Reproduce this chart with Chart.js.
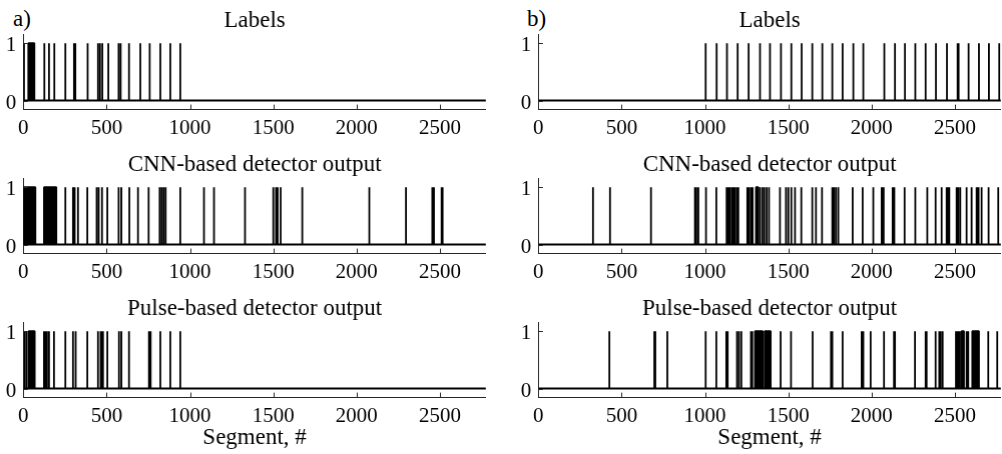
<!DOCTYPE html>
<html>
<head>
<meta charset="utf-8">
<script src="https://cdn.jsdelivr.net/npm/chart.js@4/dist/chart.umd.min.js"></script>
<style>
  html, body { margin: 0; padding: 0; background: #fff; overflow: hidden; }
  body { width: 1002px; height: 454px; position: relative; }
  .panel { position: absolute; }
  .tag { position: absolute; font-family: 'Liberation Serif', serif; font-size: 23px; line-height: 1; color: #000; }
</style>
</head>
<body>
<div class="tag" style="left:13px;top:7px;">a)</div>
<div class="tag" style="left:527px;top:7px;">b)</div>
<div class="panel" id="p0"><canvas id="c0"></canvas></div>
<div class="panel" id="p1"><canvas id="c1"></canvas></div>
<div class="panel" id="p2"><canvas id="c2"></canvas></div>
<div class="panel" id="p3"><canvas id="c3"></canvas></div>
<div class="panel" id="p4"><canvas id="c4"></canvas></div>
<div class="panel" id="p5"><canvas id="c5"></canvas></div>
<script>
// ---------- data (segment indices of detections) ----------
const xTicks = [0, 500, 1000, 1500, 2000, 2500];
const yTicks = [0, 1];
const titles = ['Labels', 'CNN-based detector output', 'Pulse-based detector output'];
const xAxisTitle = 'Segment, #';

// a) column
const labelsA = [4, 126, 154, 186, 252, 304, 312, 386, 448, 460, 474, 510, 572, 584, 634, 702, 756, 760, 822, 882, 942];
const labelsABlocks = [[30, 66]];
const cnnA = [252, 298, 308, 328, 384, 440, 452, 472, 504, 572, 588, 636, 688, 752, 818, 830, 842, 854, 942,
              1084, 1144, 1330, 1500, 1516, 1526, 1544, 1674, 2076, 2296, 2454, 2464, 2510, 2516];
const cnnABlocks = [[0, 72], [124, 198]];
const pulseA = [8, 20, 124, 132, 142, 154, 184, 252, 298, 314, 384, 448, 464, 472, 478, 504, 574, 588, 634,
                754, 764, 822, 882, 942];
const pulseABlocks = [[32, 68]];

// b) column
const labelsB = [1004, 1070, 1132, 1196, 1262, 1330, 1390, 1456, 1518, 1580, 1644, 1704, 1764, 1826, 1890, 1950,
                 2076, 2140, 2200, 2262, 2324, 2386, 2452, 2516, 2522, 2582, 2644, 2704, 2766];
const labelsBBlocks = [];
const cnnB = [328, 430, 676, 940, 948, 960, 1006, 1068, 1130, 1140, 1148, 1160, 1170, 1180, 1192, 1200,
              1254, 1264, 1276, 1286, 1330, 1344, 1356, 1370, 1384, 1450, 1486, 1500, 1518, 1540, 1578,
              1644, 1666, 1702, 1764, 1774, 1786, 1800, 1886, 1946, 2010, 2060, 2066, 2072, 2126, 2136,
              2198, 2262, 2334, 2384, 2420, 2450, 2458, 2466, 2510, 2520, 2532, 2570, 2600, 2630, 2636,
              2642, 2660, 2702, 2760];
const cnnBBlocks = [[1306, 1320]];
const pulseB = [426, 696, 702, 774, 1004, 1068, 1128, 1136, 1192, 1204, 1218, 1276, 1284, 1454, 1516, 1646,
                1756, 1764, 1826, 1940, 1950, 1994, 2074, 2134, 2140, 2260, 2324, 2330, 2384, 2406, 2414,
                2426, 2506, 2514, 2522, 2530, 2570, 2580, 2700, 2754];
const pulseBBlocks = [[1300, 1346], [1358, 1394], [2540, 2554], [2604, 2644]];

const X_MIN = 0, X_MAX = 2776;
const Y_MIN = -0.15, Y_MAX = 1.15;

// ---------- layout ----------
const FONT = "'Liberation Serif', 'Times New Roman', serif";
const Y_AXIS_W = 23.3;
const PLOT_W = 462.5;
const PLOT_H = 74.5;
const TITLE_H = 23 * 1.2;
const colLeft = [23.3, 538.4];           // pixel of x=0
const rowTop = [34.7, 178.7, 322.5];     // chart-area top

function spikePoints(spikes) {
  const pts = [{x: X_MIN, y: 0}];
  spikes.slice().sort((a, b) => a - b).forEach(v => {
    pts.push({x: v, y: 0}, {x: v, y: 1}, {x: v, y: 0});
  });
  pts.push({x: X_MAX, y: 0});
  return pts;
}
function blockPoints(b) {
  return [{x: b[0], y: 0}, {x: b[0], y: 1}, {x: b[1], y: 1}, {x: b[1], y: 0}];
}

const innerTicks = {
  id: 'innerTicks',
  afterDraw(chart) {
    const {ctx, chartArea: a, scales: {x, y}} = chart;
    ctx.save();
    ctx.strokeStyle = '#262626';
    ctx.lineWidth = 1;
    ctx.beginPath();
    x.ticks.forEach(t => {
      const p = Math.round(x.getPixelForValue(t.value)) + 0.5;
      ctx.moveTo(p, a.bottom); ctx.lineTo(p, a.bottom - 4.5);
    });
    y.ticks.forEach(t => {
      const p = Math.round(y.getPixelForValue(t.value)) + 0.5;
      ctx.moveTo(a.left, p); ctx.lineTo(a.left + 4.5, p);
    });
    ctx.stroke();
    ctx.restore();
  }
};

const panels = [
  {col: 0, row: 0, s: labelsA, b: labelsABlocks},
  {col: 0, row: 1, s: cnnA, b: cnnABlocks},
  {col: 0, row: 2, s: pulseA, b: pulseABlocks},
  {col: 1, row: 0, s: labelsB, b: labelsBBlocks},
  {col: 1, row: 1, s: cnnB, b: cnnBBlocks},
  {col: 1, row: 2, s: pulseB, b: pulseBBlocks},
];

const lineStyle = {
  borderColor: '#000',
  backgroundColor: '#000',
  borderWidth: 1.8,
  borderJoinStyle: 'bevel',
  borderCapStyle: 'butt',
  pointRadius: 0,
  tension: 0
};

panels.forEach((p, i) => {
  const last = p.row === 2;
  const xAxisH = last ? 60 : 40;
  const div = document.getElementById('p' + i);
  div.style.left = (colLeft[p.col] - Y_AXIS_W) + 'px';
  div.style.top = (rowTop[p.row] - TITLE_H) + 'px';
  div.style.width = (Y_AXIS_W + PLOT_W) + 'px';
  div.style.height = (TITLE_H + PLOT_H + xAxisH) + 'px';

  const datasets = [Object.assign({data: spikePoints(p.s), fill: false}, lineStyle)];
  p.b.forEach(b => datasets.push(Object.assign({data: blockPoints(b), fill: 'origin'}, lineStyle)));

  new Chart(document.getElementById('c' + i), {
    type: 'line',
    data: {datasets},
    plugins: [innerTicks],
    options: {
      responsive: true,
      maintainAspectRatio: false,
      animation: false,
      events: [],
      layout: {padding: 0},
      plugins: {
        legend: {display: false},
        tooltip: {enabled: false},
        title: {
          display: true,
          text: titles[p.row],
          fullSize: false,
          color: '#000',
          font: {family: FONT, size: 23, weight: 'normal', lineHeight: 1.2},
          padding: {top: 0, bottom: 0}
        }
      },
      scales: {
        x: {
          type: 'linear',
          min: X_MIN, max: X_MAX,
          afterBuildTicks: s => { s.ticks = xTicks.map(v => ({value: v})); },
          afterFit: s => { s.height = xAxisH; },
          grid: {drawOnChartArea: false, drawTicks: false},
          border: {display: true, color: '#262626', width: 1},
          ticks: {color: '#000', font: {family: FONT, size: 21}, padding: 6.5, maxRotation: 0, autoSkip: false,
                  callback: v => String(v)},
          title: {
            display: last,
            text: xAxisTitle,
            color: '#000',
            font: {family: FONT, size: 23},
            padding: {top: 0, bottom: 5}
          }
        },
        y: {
          type: 'linear',
          min: Y_MIN, max: Y_MAX,
          afterBuildTicks: s => { s.ticks = yTicks.map(v => ({value: v})); },
          afterFit: s => { s.width = Y_AXIS_W; },
          grid: {drawOnChartArea: false, drawTicks: false},
          border: {display: true, color: '#262626', width: 1},
          ticks: {color: '#000', font: {family: FONT, size: 21}, padding: 7, labelOffset: 2.5,
                  callback: v => String(v)}
        }
      }
    }
  });
});
</script>
</body>
</html>
